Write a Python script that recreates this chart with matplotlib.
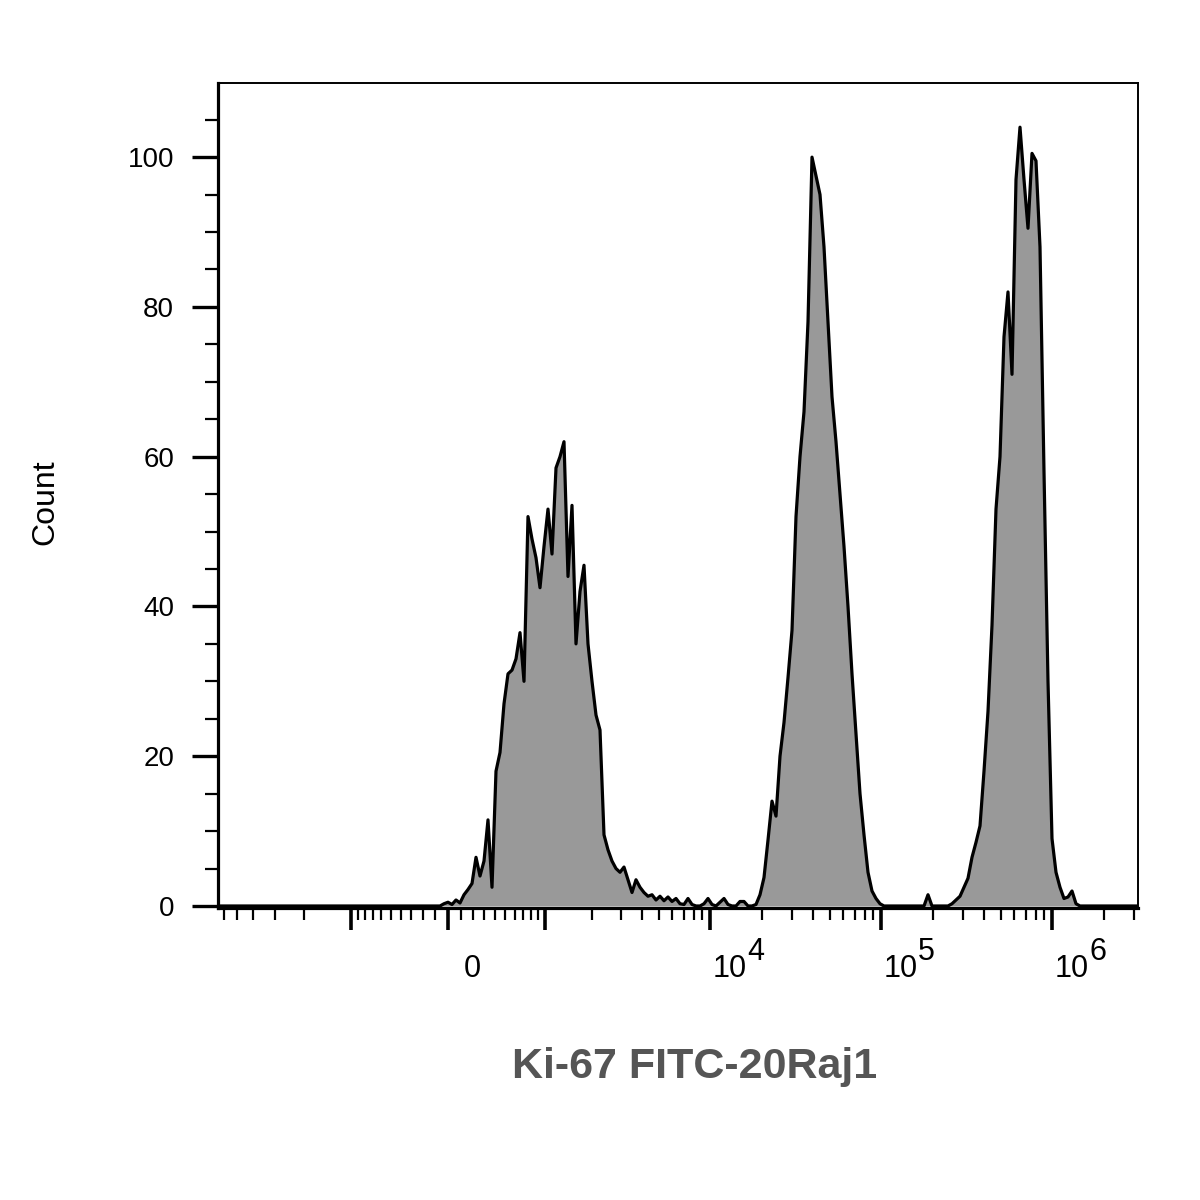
import numpy as np
import matplotlib.pyplot as plt
from matplotlib import transforms
from matplotlib.ticker import FixedLocator, NullFormatter

plt.rcParams['font.family'] = ['Liberation Sans', 'DejaVu Sans']

# FlowJo style histogram: channels of equal width on an arcsinh (biex-like) axis
N_CHANNELS = 230
X_MIN, X_MAX = -6470, 3.17e6
COFACTOR = 587

# counts, one per channel (channels 56..214 carry events)
events = [
    0.3, 0.5, 0.2, 0.8, 0.4, 1.5, 2.2, 3.0, 6.5, 4.0,
    6.0, 11.5, 2.5, 18.0, 20.5, 27.0, 31.0, 31.5, 33.0, 36.5,
    30.0, 52.0, 49.0, 46.5, 42.5, 48.0, 53.0, 47.0, 58.5, 60.0,
    62.0, 44.0, 53.5, 35.0, 42.0, 45.5, 35.0, 30.0, 25.5, 23.5,
    9.5, 7.5, 6.0, 5.0, 4.5, 5.2, 3.5, 1.8, 3.5, 2.5,
    1.8, 1.3, 1.5, 0.8, 1.3, 0.7, 1.2, 0.6, 1.0, 0.3,
    0.2, 1.0, 0.2, 0.0, 0.0, 0.3, 1.0, 0.2, 0.0, 0.5,
    1.0, 0.2, 0.0, 0.0, 0.6, 0.6, 0.0, 0.0, 0.2, 1.5,
    3.8, 8.8, 14.0, 12.0, 20.0, 24.5, 30.5, 36.8, 52.0, 60.0,
    66.0, 78.0, 100.0, 97.5, 95.0, 88.0, 78.0, 68.0, 62.0, 55.0,
    48.0, 40.0, 31.0, 23.0, 15.0, 9.5, 4.5, 2.0, 1.0, 0.3,
    0.0, 0.0, 0.0, 0.0, 0.0, 0.0, 0.0, 0.0, 0.0, 0.0,
    0.0, 1.5, 0.0, 0.0, 0.0, 0.0, 0.0, 0.3, 0.8, 1.3,
    2.5, 3.7, 6.5, 8.5, 10.7, 18.0, 26.0, 37.5, 53.0, 60.0,
    76.0, 82.0, 71.0, 97.0, 104.0, 97.0, 90.5, 100.5, 99.5, 88.0,
    58.0, 30.0, 9.0, 4.5, 2.5, 1.0, 1.2, 2.0, 0.3,
]
counts = np.array([0.0] * 56 + events + [0.0] * (N_CHANNELS - 56 - len(events)))

major_ticks = [-1e3, 0, 1e3, 1e4, 1e5, 1e6]
decade_labels = [(1e4, "4"), (1e5, "5"), (1e6, "6")]
x_label = "Ki-67 FITC-20Raj1"
y_label = "Count"


def fwd(x):
    return np.arcsinh(np.asarray(x, dtype=float) / COFACTOR)


def inv(t):
    return COFACTOR * np.sinh(np.asarray(t, dtype=float))


t_edges = np.linspace(fwd(X_MIN), fwd(X_MAX), N_CHANNELS + 1)
x_centers = inv((t_edges[:-1] + t_edges[1:]) / 2)

fig = plt.figure(figsize=(12, 12), dpi=100)
ax = fig.add_axes([218 / 1200, 1 - 908 / 1200, 920 / 1200, 825 / 1200])
ax.set_xscale('function', functions=(fwd, inv))

ax.fill_between(x_centers, counts, 0, color='#999999', lw=0)
ax.plot(x_centers, counts, color='black', lw=2.3)

ax.set_xlim(X_MIN, X_MAX)
ax.set_ylim(-0.27, 109.9)

# y axis
ax.yaxis.set_major_locator(FixedLocator(range(0, 101, 20)))
ax.yaxis.set_minor_locator(FixedLocator([v for v in range(5, 106, 5) if v % 20]))
ax.tick_params(axis='y', which='major', direction='out', length=18.5, width=2.4,
               labelsize=20, pad=13)
ax.tick_params(axis='y', which='minor', direction='out', length=9.4, width=1.6)

# x axis: biex-like ticks, labels drawn by hand like FlowJo does
minor = ([-m * 1e3 for m in range(2, 7)] + [-m * 100 for m in range(1, 10)]
         + [m * 100 for m in range(1, 10)] + [m * 1e3 for m in range(2, 10)]
         + [m * 1e4 for m in range(2, 10)] + [m * 1e5 for m in range(2, 10)]
         + [2e6, 3e6])
ax.xaxis.set_major_locator(FixedLocator(major_ticks))
ax.xaxis.set_minor_locator(FixedLocator(minor))
ax.xaxis.set_major_formatter(NullFormatter())
ax.xaxis.set_minor_formatter(NullFormatter())
ax.tick_params(axis='x', which='major', direction='out', length=16, width=2.6)
ax.tick_params(axis='x', which='minor', direction='out', length=8.6, width=1.6)

base = transforms.blended_transform_factory(ax.transData, ax.transAxes)


def shifted(dx, dy):
    return base + transforms.ScaledTranslation(dx / 100, dy / 100, fig.dpi_scale_trans)


ax.text(0, 0, "0", transform=shifted(24, -61), ha='center', va='center', fontsize=22)
for value, power in decade_labels:
    ax.text(value, 0, "10", transform=shifted(2, -61), ha='left', va='center', fontsize=22)
    ax.text(value, 0, power, transform=shifted(37, -44), ha='left', va='center', fontsize=22)

for side in ['left', 'bottom']:
    ax.spines[side].set_linewidth(2.3)
for side in ['top', 'right']:
    ax.spines[side].set_linewidth(1.4)

fig.text(45 / 1200, 1 - 502 / 1200, y_label, rotation=90, ha='center', va='center',
         fontsize=23)
fig.text(695 / 1200, 1 - 1078 / 1200, x_label, ha='center', va='baseline',
         fontsize=31, fontweight='bold', color='#555555')

fig.savefig('out.png', dpi=100)
